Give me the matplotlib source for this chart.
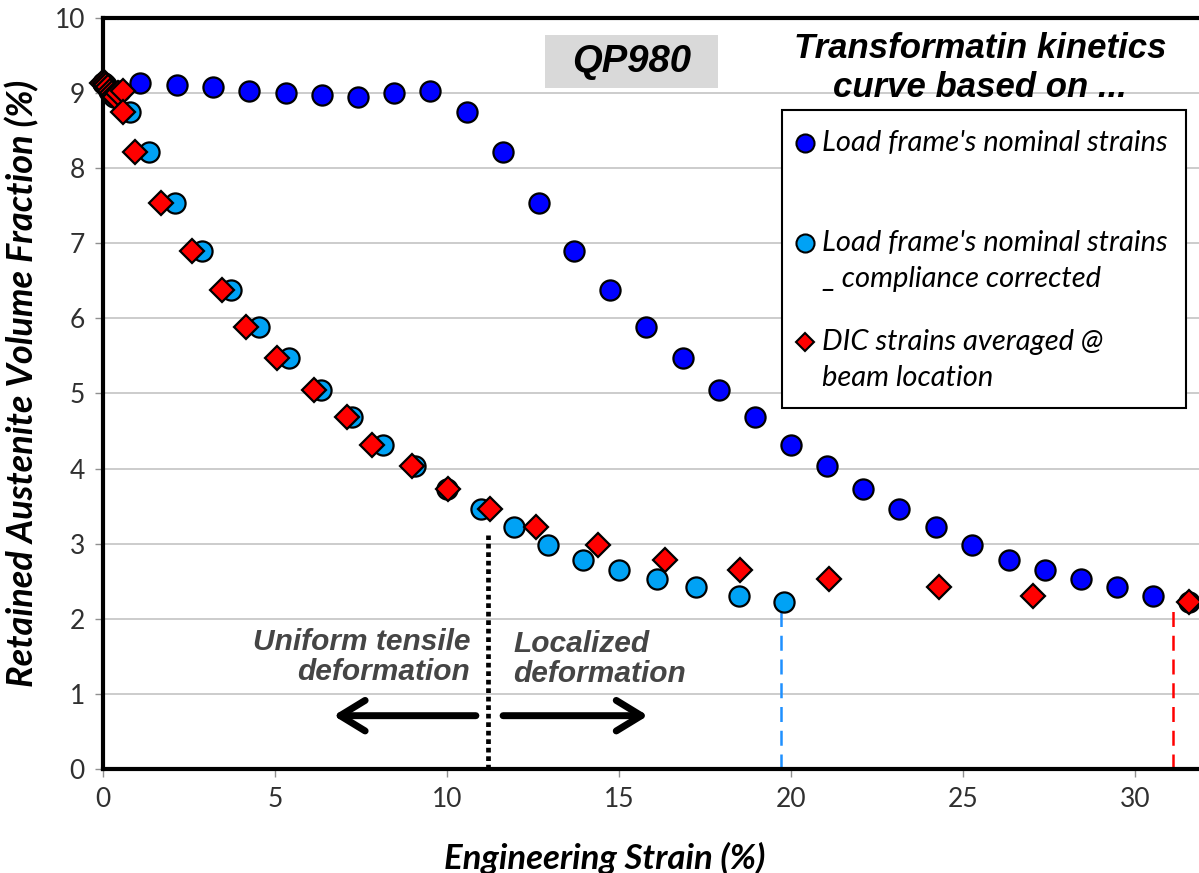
import matplotlib
matplotlib.use("Agg")
import matplotlib.pyplot as plt
from matplotlib.patches import Rectangle
from matplotlib.lines import Line2D

# load frame nominal strains
nominal_strain = [0.0, 1.08, 2.14, 3.19, 4.24, 5.31, 6.36, 7.41, 8.46, 9.51, 10.58,
                  11.63, 12.67, 13.69, 14.74, 15.78, 16.86, 17.9, 18.95, 20.0, 21.05,
                  22.1, 23.14, 24.22, 25.26, 26.34, 27.38, 28.43, 29.48, 30.52, 31.56]
nominal_ra = [9.13, 9.13, 9.11, 9.08, 9.03, 9.0, 8.97, 8.95, 9.0, 9.03, 8.75,
              8.22, 7.54, 6.90, 6.38, 5.89, 5.47, 5.05, 4.69, 4.32, 4.03,
              3.73, 3.46, 3.22, 2.98, 2.78, 2.65, 2.53, 2.43, 2.30, 2.22]

# same data, compliance corrected
corrected_strain = [0.0, 0.04, 0.08, 0.12, 0.17, 0.22, 0.27, 0.32, 0.4, 0.5, 0.78,
                    1.35, 2.09, 2.89, 3.72, 4.54, 5.41, 6.33, 7.23, 8.14, 9.07,
                    9.99, 10.98, 11.95, 12.94, 13.96, 15.0, 16.1, 17.25, 18.5, 19.8]
corrected_ra = nominal_ra

# DIC strains averaged at beam location
dic_strain = [-0.03, 0.05, 0.1, 0.15, 0.2, 0.26, 0.32, 0.36, 0.45, 0.58, 0.59,
              0.93, 1.69, 2.58, 3.47, 4.16, 5.05, 6.13, 7.08, 7.81, 8.97,
              10.04, 11.25, 12.59, 14.4, 16.34, 18.53, 21.09, 24.29, 27.03, 31.56]
dic_ra = nominal_ra

uniform_limit = 11.18      # end of uniform elongation
corrected_fracture = 19.72
dic_fracture = 31.1

xticks = [0, 5, 10, 15, 20, 25, 30]
yticks = list(range(0, 11))

plt.rcParams['font.family'] = ['Lato', 'DejaVu Sans']

W, H = 1199, 873
fig = plt.figure(figsize=(W/100, H/100), dpi=100)
ax = fig.add_axes([103/W, 1-769/H, 1-103/W, (769-18)/H])

ax.set_xlim(0, 31.86)
ax.set_ylim(0, 10)
ax.set_xticks(xticks)
ax.set_yticks(yticks)
ax.grid(axis='y', color='#c8c8c8', lw=1.3)
ax.set_axisbelow(True)
ax.tick_params(direction='out', length=6, width=1, color='#909090',
               labelsize=19, labelcolor='#303030', pad=7)
for s in ['left', 'top', 'bottom']:
    ax.spines[s].set_linewidth(3)
    ax.spines[s].set_color('black')
ax.spines['right'].set_visible(False)

mk = dict(markeredgecolor='black', markeredgewidth=1.6, linestyle='none', clip_on=False)
ax.plot(nominal_strain, nominal_ra, marker='o', markersize=14.5, color='#0000ff', zorder=3, **mk)
ax.plot(corrected_strain, corrected_ra, marker='o', markersize=14.5, color='#00a2f5', zorder=4, **mk)
ax.plot(dic_strain, dic_ra, marker='D', markersize=12, color='#ff0000', zorder=5, **mk)

# fracture and uniform limit markers
ax.plot([uniform_limit, uniform_limit], [0, 3.12], color='black', lw=3.4,
        linestyle=(0, (1, 0.8)), dash_capstyle='butt', zorder=2)
ax.plot([corrected_fracture, corrected_fracture], [0, 2.1], color='#1e90ff', lw=1.8,
        linestyle=(0, (6, 3.5)), zorder=2)
ax.plot([dic_fracture, dic_fracture], [0, 2.1], color='#ff0000', lw=1.8,
        linestyle=(0, (6, 3.5)), zorder=2)

arrow = dict(arrowstyle='->,head_length=0.9,head_width=0.55', lw=5, color='black',
             mutation_scale=20, shrinkA=0, shrinkB=0)
ax.annotate('', xy=(6.7, 0.71), xytext=(10.84, 0.71), arrowprops=arrow)
ax.annotate('', xy=(15.84, 0.71), xytext=(11.63, 0.71), arrowprops=arrow)

ann = dict(fontsize=21.5, color='#454545', fontweight='bold', fontstyle='italic',
           family=['Liberation Sans'], va='center', linespacing=1.1)
ax.text(10.67, 1.49, 'Uniform tensile\ndeformation', ha='right', multialignment='right', **ann)
ax.text(11.92, 1.47, 'Localized\ndeformation', ha='left', multialignment='left', **ann)

ax.set_xlabel('Engineering Strain (%)', fontsize=25, fontweight='bold', fontstyle='italic')
ax.set_ylabel('Retained Austenite Volume Fraction (%)', fontsize=26,
              fontweight='bold', fontstyle='italic')
ax.xaxis.label.set_va('center')
ax.yaxis.label.set_va('center')
ax.xaxis.set_label_coords((605-103)/1096, (769-858)/751)
ax.yaxis.set_label_coords((22-103)/1096, (769-383)/751)

# sample name box
fig.add_artist(Rectangle((545/W, 1-88/H), (718-545)/W, (88-35)/H,
                         transform=fig.transFigure, fc='#d9d9d9', ec='none', zorder=6))
fig.text(632/W, 1-62/H, 'QP980', fontsize=27.5, fontweight='bold', fontstyle='italic',
         family=['Liberation Sans'], ha='center', va='center', zorder=7)

fig.text(980/W, 1-68/H, 'Transformatin kinetics\ncurve based on ...', fontsize=25,
         fontweight='bold', fontstyle='italic', family=['Liberation Sans'],
         ha='center', va='center', linespacing=1.25)

# legend
fig.add_artist(Rectangle((782/W, 1-408/H), (1186-782)/W, (408-110)/H,
                         transform=fig.transFigure, fc='white', ec='black', lw=1.5, zorder=6))
entries = [
    (143, 'o', '#0000ff', 13, ["Load frame's nominal strains"]),
    (243, 'o', '#00a2f5', 13, ["Load frame's nominal strains", "_ compliance corrected"]),
    (342, 'D', '#ff0000', 9, ["DIC strains averaged @", "beam location"]),
]
for ypx, m, c, ms, lines in entries:
    fig.add_artist(Line2D([805/W], [1-ypx/H], marker=m, color=c, markersize=ms,
                          markeredgecolor='black', markeredgewidth=1.5,
                          transform=fig.transFigure, zorder=7))
    for i, line in enumerate(lines):
        fig.text(822/W, 1-(ypx + 36*i)/H, line, fontsize=21, fontstyle='italic',
                 ha='left', va='center', zorder=7)

fig.savefig('out.png', dpi=100)
